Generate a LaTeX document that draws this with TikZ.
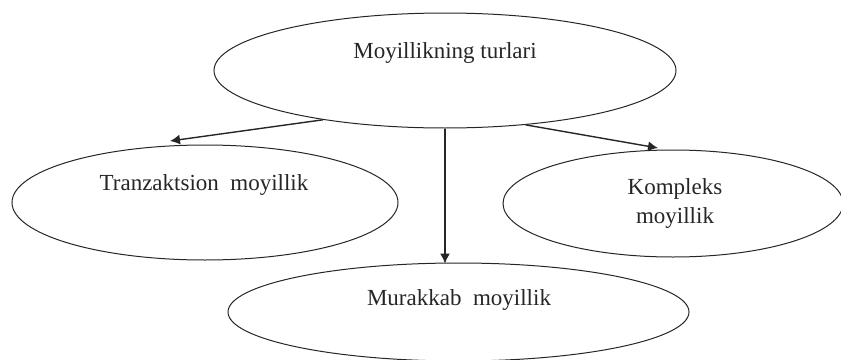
\documentclass[tikz,border=0pt]{standalone}
\usepackage{fontspec}
\setmainfont{Liberation Serif}
\usetikzlibrary{shapes.geometric,arrows.meta}
\begin{document}
\begin{tikzpicture}[x=1pt,y=-1pt,
  oval/.style={draw=black!85,ellipse,line width=1pt,inner sep=0pt},
  lbl/.style={font=\fontsize{23}{29}\selectfont,text=black!85,inner sep=0pt,align=center},
  arr/.style={draw=black!85,line width=1.4pt,-{Latex[length=10pt,width=10pt]}}]
\useasboundingbox (0,0) rectangle (841,359);
\node[oval,minimum width=462pt,minimum height=115pt] (top) at (445,70.5) {};
\node[oval,minimum width=386pt,minimum height=115pt] (left) at (205,202.5) {};
\node[oval,minimum width=340pt,minimum height=107pt] (right) at (673,203.5) {};
\node[oval,minimum width=461pt,minimum height=98pt] (bot) at (458.5,312) {};
\node[lbl] (ttop) at (445,53) {Moyillikning turlari};
\node[lbl] (tleft) at (204,185) {Tranzaktsion\hspace{0.5em}moyillik};
\node[lbl] (tright) at (675,203) {Kompleks\\moyillik};
\node[lbl] (tbot) at (459,300) {Murakkab\hspace{0.5em}moyillik};
\coordinate (eleft) at (170,141);
\coordinate (eright) at (658,148);
\draw[arr] (top.202) -- (eleft);
\draw[arr] (top.326.6) -- (eright);
\draw[arr] (top.south) -- ([yshift=-1pt]top.south |- bot.north);
\end{tikzpicture}
\end{document}
